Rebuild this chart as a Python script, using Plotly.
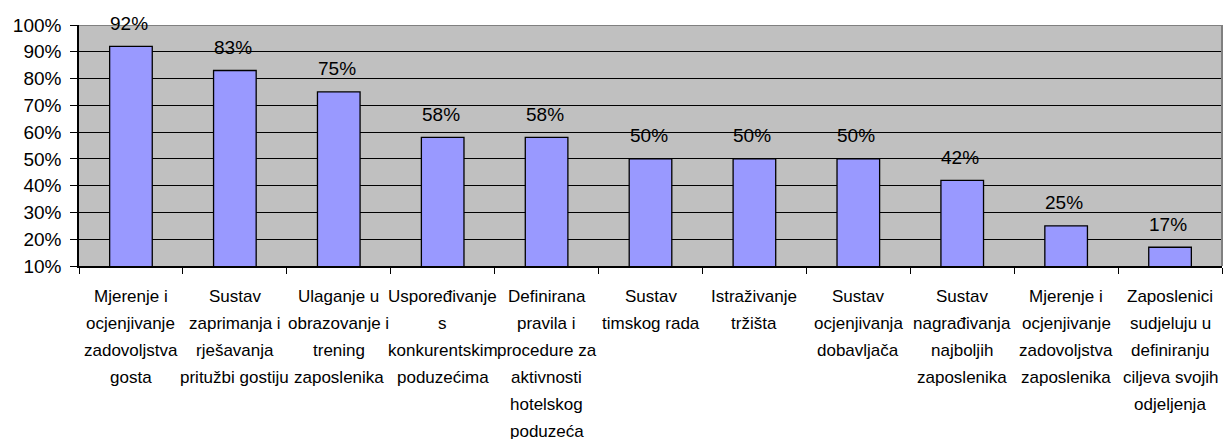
import plotly.graph_objects as go

# Category labels, one list entry per printed line
category_lines = [
    ["Mjerenje i", "ocjenjivanje", "zadovoljstva", "gosta"],
    ["Sustav", "zaprimanja i", "rješavanja", "pritužbi gostiju"],
    ["Ulaganje u", "obrazovanje i", "trening", "zaposlenika"],
    ["Uspoređivanje", "s", "konkurentskim", "poduzećima"],
    ["Definirana", "pravila i", "procedure za", "aktivnosti", "hotelskog", "poduzeća"],
    ["Sustav", "timskog rada"],
    ["Istraživanje", "tržišta"],
    ["Sustav", "ocjenjivanja", "dobavljača"],
    ["Sustav", "nagrađivanja", "najboljih", "zaposlenika"],
    ["Mjerenje i", "ocjenjivanje", "zadovoljstva", "zaposlenika"],
    ["Zaposlenici", "sudjeluju u", "definiranju", "ciljeva svojih", "odjeljenja"],
]
values = [92, 83, 75, 58, 58, 50, 50, 50, 42, 25, 17]
y_ticks = [10, 20, 30, 40, 50, 60, 70, 80, 90, 100]
y_tick_labels = [f"{t}%" for t in y_ticks]

categories = [" ".join(lines) for lines in category_lines]

FONT = "Liberation Sans, Arial, sans-serif"

fig = go.Figure(
    go.Bar(
        x=categories,
        y=values,
        width=0.41,
        marker=dict(color="#9999FF", line=dict(color="black", width=1.3)),
        hoverinfo="skip",
    )
)

annotations = []
# Percentage labels above the bars
for cat, v in zip(categories, values):
    annotations.append(dict(
        x=cat, y=v, xref="x", yref="y", text=f"{v}%", showarrow=False,
        yanchor="middle", yshift=23, xshift=-2,
        font=dict(family=FONT, size=19, color="black"),
    ))
# Multi-line category labels under the axis
for cat, lines in zip(categories, category_lines):
    for i, line in enumerate(lines):
        annotations.append(dict(
            x=cat, y=0, xref="x", yref="paper", text=line, showarrow=False,
            yanchor="middle", yshift=-(30 + 27 * i),
            font=dict(family=FONT, size=17, color="black"),
        ))

fig.update_layout(
    width=1224, height=439,
    margin=dict(l=79, r=2, t=25, b=173),
    paper_bgcolor="white",
    plot_bgcolor="#C0C0C0",
    showlegend=False,
    bargap=0.59,
    font=dict(family=FONT, color="black"),
    annotations=annotations,
    shapes=[
        dict(type="line", xref="paper", yref="y", x0=0, x1=1, y0=100, y1=100,
             line=dict(color="#808080", width=2), layer="above"),
        dict(type="line", xref="paper", yref="y", x0=1, x1=1, y0=10, y1=100,
             line=dict(color="#808080", width=2), layer="above"),
    ],
)

fig.update_yaxes(
    range=[10, 100],
    tickmode="array",
    tickvals=y_ticks,
    ticktext=y_tick_labels,
    showgrid=True, gridcolor="black", gridwidth=1.4,
    zeroline=False,
    showline=True, linecolor="black", linewidth=1.5,
    ticks="outside", ticklen=7, tickcolor="black", tickwidth=1.3,
    ticklabelstandoff=5,
    tickfont=dict(family=FONT, size=19, color="black"),
    fixedrange=True,
)
fig.update_xaxes(
    range=[-0.5, 10.5],
    showticklabels=False,
    showgrid=False,
    showline=True, linecolor="black", linewidth=1.5,
    ticks="outside", tickson="boundaries", ticklen=6, tickcolor="black", tickwidth=1.3,
    fixedrange=True,
)

fig.write_html("out.html")
